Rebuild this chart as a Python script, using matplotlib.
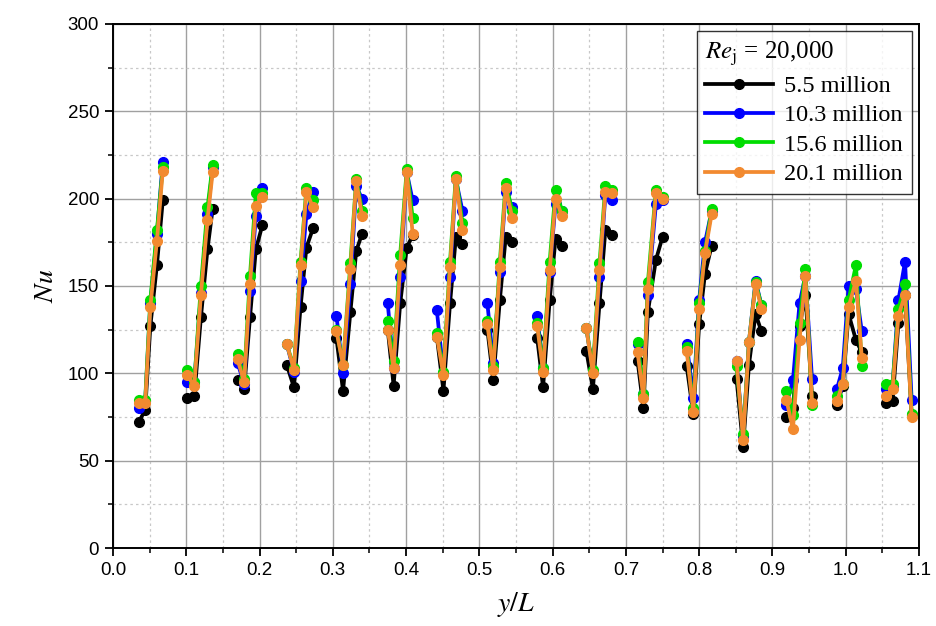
import matplotlib
matplotlib.use("Agg")
import matplotlib.pyplot as plt
import numpy as np
from matplotlib.ticker import MultipleLocator

# y/L positions, 16 groups of 5 points each
x_groups = [
    [0.035, 0.044, 0.051, 0.060, 0.068],
    [0.101, 0.111, 0.120, 0.129, 0.136],
    [0.170, 0.179, 0.187, 0.195, 0.204],
    [0.237, 0.247, 0.256, 0.264, 0.273],
    [0.305, 0.314, 0.324, 0.332, 0.340],
    [0.375, 0.383, 0.392, 0.401, 0.409],
    [0.442, 0.451, 0.460, 0.468, 0.477],
    [0.511, 0.519, 0.528, 0.536, 0.545],
    [0.579, 0.587, 0.596, 0.604, 0.613],
    [0.646, 0.655, 0.664, 0.672, 0.681],
    [0.716, 0.724, 0.730, 0.741, 0.750],
    [0.783, 0.792, 0.800, 0.808, 0.817],
    [0.851, 0.860, 0.868, 0.877, 0.885],
    [0.919, 0.928, 0.937, 0.945, 0.954],
    [0.988, 0.996, 1.004, 1.014, 1.022],
    [1.055, 1.064, 1.072, 1.081, 1.090],
]

nu_5_5 = [
    [72, 79, 127, 162, 199], [86, 87, 132, 171, 194], [96, 91, 132, 171, 185],
    [105, 92, 138, 172, 183], [120, 90, 135, 170, 180], [125, 93, 140, 172, 179],
    [121, 90, 140, 178, 174], [125, 96, 142, 178, 175], [120, 92, 142, 177, 173],
    [113, 91, 140, 182, 179], [107, 80, 135, 165, 178], [104, 77, 128, 157, 173],
    [97, 58, 105, 134, 124], [75, 80, 127, 145, 87], [82, 93, 134, 119, 112],
    [83, 84, 129, 145, 76],
]
nu_10_3 = [
    [80, 84, 140, 180, 221], [95, 95, 146, 191, 218], [106, 94, 147, 190, 206],
    [117, 101, 153, 191, 204], [133, 100, 151, 207, 200], [140, 103, 155, 215, 199],
    [136, 100, 155, 211, 193], [140, 106, 158, 204, 195], [133, 103, 158, 197, 193],
    [126, 101, 155, 202, 199], [117, 88, 145, 197, 199], [117, 86, 142, 175, 193],
    [107, 64, 118, 153, 139], [82, 96, 140, 156, 97], [91, 103, 150, 148, 124],
    [91, 93, 142, 164, 85],
]
nu_15_6 = [
    [85, 85, 142, 182, 218], [102, 95, 150, 195, 219], [111, 97, 156, 203, 203],
    [117, 103, 164, 206, 199], [125, 105, 163, 211, 193], [130, 107, 168, 217, 189],
    [123, 101, 164, 213, 186], [130, 104, 164, 209, 193], [129, 103, 164, 205, 193],
    [126, 102, 163, 207, 205], [118, 88, 152, 205, 201], [115, 80, 140, 170, 194],
    [104, 65, 118, 152, 139], [90, 76, 129, 160, 82], [87, 94, 142, 162, 104],
    [94, 94, 137, 151, 77],
]
nu_20_1 = [
    [83, 83, 138, 176, 216], [99, 93, 145, 188, 215], [108, 95, 151, 196, 201],
    [117, 102, 162, 204, 195], [124, 105, 160, 210, 190], [125, 103, 162, 215, 180],
    [121, 99, 161, 211, 182], [128, 102, 161, 206, 189], [127, 101, 159, 200, 190],
    [126, 100, 159, 204, 203], [112, 86, 148, 203, 200], [113, 78, 137, 169, 191],
    [107, 62, 118, 151, 137], [85, 68, 119, 156, 83], [84, 94, 138, 153, 109],
    [87, 91, 133, 145, 75],
]

labels = ["5.5 million", "10.3 million", "15.6 million", "20.1 million"]
colors = ["#000000", "#0000ff", "#00dd00", "#f28a30"]
series = [nu_5_5, nu_10_3, nu_15_6, nu_20_1]

plt.rcParams["mathtext.fontset"] = "stix"

fig = plt.figure(figsize=(9.36, 6.26), dpi=100)
ax = fig.add_axes([0.1207, 0.1246, 0.8611, 0.8371])

for vals, col, lab in zip(series, colors, labels):
    # join groups with NaN gaps so each group is its own segment
    xs, ys = [], []
    for gx, gy in zip(x_groups, vals):
        xs += gx + [np.nan]
        ys += gy + [np.nan]
    ax.plot(xs, ys, color=col, lw=2.7, marker="o", ms=7, label=lab)

ax.set_xlim(0, 1.1)
ax.set_ylim(0, 300)
ax.xaxis.set_minor_locator(MultipleLocator(0.05))
ax.yaxis.set_major_locator(MultipleLocator(50))
ax.yaxis.set_minor_locator(MultipleLocator(25))
ax.set_xticks(np.arange(0, 1.11, 0.1))
ax.set_xticklabels([f"{v:.1f}" for v in np.arange(0, 1.11, 0.1)])

ax.grid(which="major", color="#a0a0a0", lw=1.0, ls="-")
ax.grid(which="minor", color="#c8c8c8", lw=0.9, ls=(0, (2, 2.5)))
ax.set_axisbelow(True)

ax.tick_params(which="major", direction="out", length=6, width=1.3, labelsize=13.5, pad=4)
ax.tick_params(which="minor", direction="out", length=3.5, width=1.1)
for t in ax.get_xticklabels() + ax.get_yticklabels():
    t.set_family("Liberation Sans")
for s in ax.spines.values():
    s.set_linewidth(1.4)

ax.set_xlabel("$y/L$", fontsize=20, labelpad=8)
ax.set_ylabel("$Nu$", fontsize=20, labelpad=6)

leg = ax.legend(loc="upper right", title=r"$\mathit{Re}_{\mathrm{j}}$ = 20,000",
                prop={"family": "Liberation Serif", "size": 17.5},
                frameon=True, fancybox=False, edgecolor="black",
                handlelength=2.8, handletextpad=0.45, borderpad=0.35,
                labelspacing=0.3, borderaxespad=0.3)
leg.get_title().set_fontsize(18)
leg.get_title().set_family("Liberation Serif")
leg._legend_box.align = "left"
leg.get_frame().set_linewidth(1.0)

fig.savefig("out.png", dpi=100)
